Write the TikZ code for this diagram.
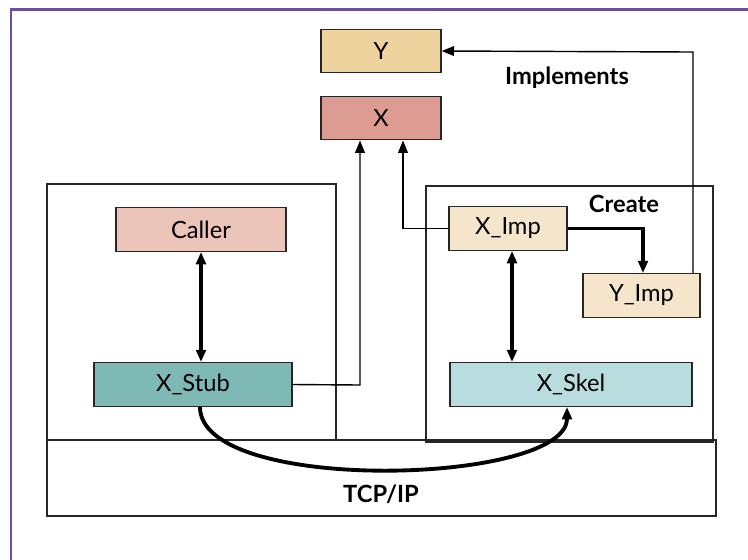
\documentclass[tikz,border=0pt]{standalone}
\usepackage{fontspec}
\setmainfont{Lato}
\usetikzlibrary{arrows.meta}

\definecolor{ifaceY}{HTML}{EED39F}
\definecolor{ifaceX}{HTML}{DD9C92}
\definecolor{callerfill}{HTML}{EBC4BA}
\definecolor{stubfill}{HTML}{7FB9B6}
\definecolor{impfill}{HTML}{F5E6CB}
\definecolor{skelfill}{HTML}{B9DCDE}
\definecolor{framecol}{HTML}{6A4FA0}

\tikzset{
  comp/.style={draw=black!85,line width=.8pt,inner sep=0pt,minimum height=.87cm,font=\fontsize{13.5}{16}\selectfont},
  area/.style={draw=black!85,line width=.8pt},
  thin/.style={line width=.8pt,-{Triangle[length=7pt,width=5.5pt]}},
  thick/.style={line width=2.2pt,-{Triangle[length=7pt,width=5.5pt]}},
  both/.style={line width=2.2pt,{Triangle[length=7pt,width=5.5pt]}-{Triangle[length=7pt,width=5.5pt]}},
  tag/.style={font=\fontsize{13.5}{16}\selectfont\bfseries}
}

\begin{document}
\begin{tikzpicture}[x=0.02cm,y=-0.02cm]
\useasboundingbox (0,0) rectangle (748,559);
\clip (0,0) rectangle (748,559);
\fill[white] (0,0) rectangle (748,559);
\draw[framecol,line width=1.7pt] (11,9) rectangle (900,700);

% containers
\draw[area] (47,184) rectangle (336,440);
\draw[area] (426,186) rectangle (713,442);
\node[area,minimum width=13.38cm,minimum height=1.52cm] (tcp) at (381.5,478) {};
\node[tag] (tcplbl) at (381,494) {TCP/IP};

% interfaces
\node[comp,fill=ifaceY,minimum width=2.4cm] (Y) at (381,51) {Y};
\node[comp,fill=ifaceX,minimum width=2.4cm] (X) at (381,118) {X};

% client side
\node[comp,fill=callerfill,minimum width=3.4cm] (caller) at (201,229.5) {Caller};
\node[comp,fill=stubfill,minimum width=3.96cm] (stub) at (193,384.5) {X\_Stub};

% server side
\node[comp,fill=impfill,minimum width=2.36cm] (ximp) at (508,228.5) {X\_Imp};
\node[comp,fill=impfill,minimum width=2.34cm] (yimp) at (641.5,295.5) {Y\_Imp};
\node[comp,fill=skelfill,minimum width=4.84cm] (skel) at (571,384.5) {X\_Skel};

\node[tag] (impl) at (567,78) {Implements};
\node[tag] (create) at (624,204) {Create};

\coordinate (c1) at (360,385);
\coordinate (c2) at (403,228.5);
\coordinate (c3) at (643,228.5);
\coordinate (c4) at (693,52);

\draw[both] (caller.south -| 201,0) -- (stub.north -| 201,0);
\draw[both] (ximp.south -| 512,0) -- (skel.north -| 512,0);
\draw[thin] (stub.east) -- (c1) -- (c1 |- X.south);
\draw[thin] (ximp.west) -- (c2) -- (c2 |- X.south);
\draw[thin] (yimp.north -| c4) -- (c4) -- (Y.east);
\draw[thick] (ximp.east) -- (c3) -- (c3 |- yimp.north);
\draw[thick] (stub.south -| 200,0) .. controls (200,495) and (567,485) .. (skel.south -| 567,0);
\end{tikzpicture}
\end{document}
